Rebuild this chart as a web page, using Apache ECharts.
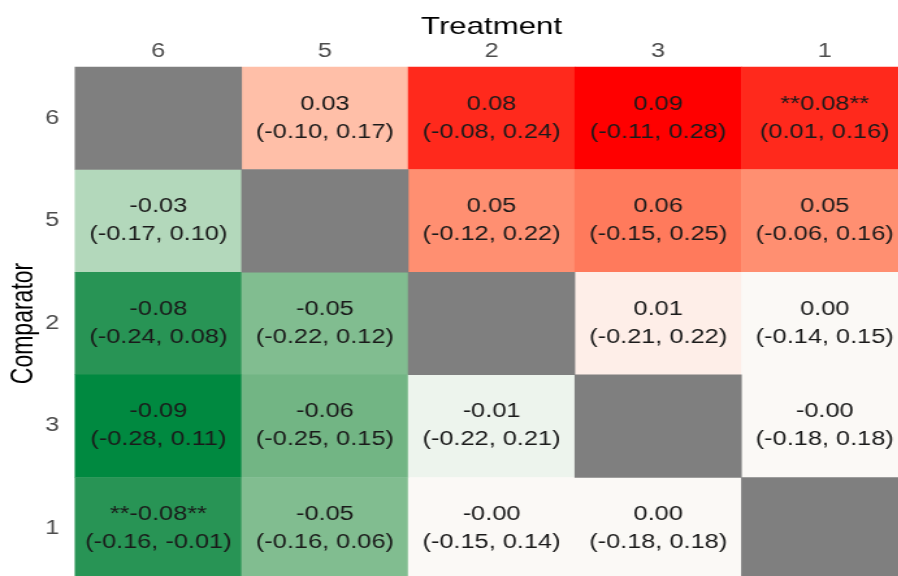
<!DOCTYPE html>
<html>
<head>
<meta charset="utf-8">
<script src="https://cdn.jsdelivr.net/npm/echarts@6/dist/echarts.min.js"></script>
<style>
  html, body { margin: 0; padding: 0; background: #fff; overflow: hidden; width: 898px; height: 576px; }
  /* the chart is laid out narrower and widened horizontally */
  #chart { width: 690.77px; height: 576px; transform: scaleX(1.3); transform-origin: 0 0; }
</style>
</head>
<body>
<div id="chart"></div>
<script>
// Column (Treatment) and row (Comparator) order
const treatments = ['6', '5', '2', '3', '1'];
const comparators = ['6', '5', '2', '3', '1'];

// Point estimates: rows = comparator, columns = treatment (null on the diagonal)
const estimates = [
  [null,  0.03,  0.08,  0.09,  0.08],
  [-0.03, null,  0.05,  0.06,  0.05],
  [-0.08, -0.05, null,  0.01,  0.00],
  [-0.09, -0.06, -0.01, null,  -0.00],
  [-0.08, -0.05, -0.00, 0.00,  null]
];

// Lower confidence bounds
const lower = [
  [null,  -0.10, -0.08, -0.11, 0.01],
  [-0.17, null,  -0.12, -0.15, -0.06],
  [-0.24, -0.22, null,  -0.21, -0.14],
  [-0.28, -0.25, -0.22, null,  -0.18],
  [-0.16, -0.16, -0.15, -0.18, null]
];

// Upper confidence bounds
const upper = [
  [null,  0.17, 0.24, 0.28, 0.16],
  [0.10,  null, 0.22, 0.25, 0.16],
  [0.08,  0.12, null, 0.22, 0.15],
  [0.11,  0.15, 0.21, null, 0.18],
  [-0.01, 0.06, 0.14, 0.18, null]
];

// keep the sign of negative zero ("-0.00")
function fmt(v) {
  return (v < 0 || Object.is(v, -0) ? '-' : '') + Math.abs(v).toFixed(2);
}

const cellData = [];
const diagData = [];
comparators.forEach((c, r) => {
  treatments.forEach((t, col) => {
    const v = estimates[r][col];
    if (v === null) {
      diagData.push([col, r, 0]);
    } else {
      cellData.push({ value: [col, r, v], lo: lower[r][col], hi: upper[r][col] });
    }
  });
});

const chart = echarts.init(document.getElementById('chart'));
const font = 'Arial, "Liberation Sans", Helvetica, sans-serif';

chart.setOption({
  backgroundColor: '#ffffff',
  animation: false,
  grid: { left: 57.7, top: 67, width: 640.8, height: 513, outerBoundsMode: 'none', containLabel: false },
  xAxis: {
    type: 'category',
    data: treatments,
    position: 'top',
    name: 'Treatment',
    nameLocation: 'middle',
    nameGap: 28,
    nameMoveOverlap: false,
    nameTextStyle: { fontSize: 24, color: '#000', fontFamily: font },
    axisLine: { show: false },
    axisTick: { show: false },
    splitLine: { show: false },
    axisLabel: { color: '#4d4d4d', fontSize: 19.5, margin: 5, fontFamily: font }
  },
  yAxis: {
    type: 'category',
    data: comparators,
    inverse: true,
    name: 'Comparator',
    nameLocation: 'middle',
    nameRotate: 90,
    nameGap: 28,
    nameMoveOverlap: false,
    nameTextStyle: { fontSize: 23, color: '#000', fontFamily: font },
    axisLine: { show: false },
    axisTick: { show: false },
    splitLine: { show: false },
    axisLabel: { color: '#4d4d4d', fontSize: 19.5, margin: 12, fontFamily: font }
  },
  // diverging scale: green (negative) - near white - red (positive), stops every 0.015
  visualMap: {
    show: false,
    seriesIndex: 0,
    dimension: 2,
    min: -0.09,
    max: 0.09,
    inRange: {
      color: [
        '#008940', '#3c9a60', '#72b584', '#88c196', '#b3d8bb', '#e6f1e8', '#fbf9f6',
        '#ffe9e1', '#ffbfa8', '#ff9a7c', '#ff7a5c', '#ff3d2a', '#ff0000'
      ]
    }
  },
  series: [
    {
      type: 'heatmap',
      data: cellData,
      label: {
        show: true,
        fontSize: 19.5,
        lineHeight: 28,
        color: '#1a1a1a',
        fontFamily: font,
        formatter: function (p) {
          const d = p.data;
          const star = (d.lo > 0 || d.hi < 0) ? '**' : '';
          return star + fmt(d.value[2]) + star + '\n(' + fmt(d.lo) + ', ' + fmt(d.hi) + ')';
        }
      },
      itemStyle: { borderWidth: 0 },
      emphasis: { disabled: true }
    },
    {
      type: 'heatmap',
      data: diagData,
      itemStyle: { color: '#7f7f7f', borderWidth: 0 },
      label: { show: false },
      emphasis: { disabled: true }
    }
  ]
});
</script>
</body>
</html>
